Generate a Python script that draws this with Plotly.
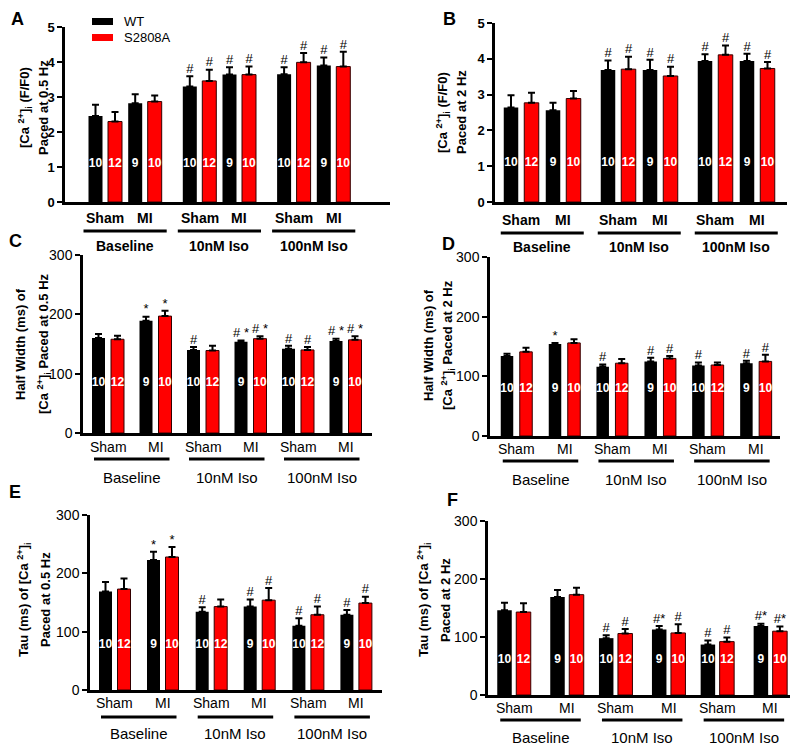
import plotly.graph_objects as go

W, H = 800, 746
OFF = 8  # page body margin: the figure is drawn 8px right/down of the window corner
FONT = "Arial, Liberation Sans, Helvetica, sans-serif"

# ---------------- data ----------------
group_names = ["Baseline", "10nM Iso", "100nM Iso"]
condition_names = ["Sham", "MI"]
series_names = ["WT", "S2808A"]
# order: Baseline Sham, Baseline MI, 10nM Sham, 10nM MI, 100nM Sham, 100nM MI
n_wt = ["10", "9", "10", "9", "10", "9"]
n_s = ["12", "10", "12", "10", "12", "10"]

A_wt = [2.46, 2.82, 3.30, 3.64, 3.65, 3.90]
A_wt_err = [0.32, 0.26, 0.29, 0.21, 0.20, 0.23]
A_s = [2.30, 2.87, 3.46, 3.64, 3.99, 3.87]
A_s_err = [0.27, 0.17, 0.32, 0.23, 0.27, 0.42]
A_wt_sig = ["", "", "#", "#", "#", "#"]
A_s_sig = ["", "", "#", "#", "#", "#"]

B_wt = [2.64, 2.56, 3.69, 3.69, 3.94, 3.94]
B_wt_err = [0.34, 0.21, 0.26, 0.28, 0.19, 0.20]
B_s = [2.77, 2.89, 3.71, 3.52, 4.11, 3.73]
B_s_err = [0.28, 0.21, 0.35, 0.26, 0.26, 0.18]
B_wt_sig = ["", "", "#", "#", "#", "#"]
B_s_sig = ["", "", "#", "#", "#", "#"]

C_wt = [160, 189, 140, 154, 142, 155]
C_wt_err = [7, 7, 5, 2, 5, 4]
C_s = [158, 197, 139, 159, 140, 157]
C_s_err = [6, 9, 8, 4, 5, 6]
C_wt_sig = ["", "*", "#", "# *", "#", "# *"]
C_s_sig = ["", "*", "", "# *", "#", "# *"]

D_wt = [134, 154, 116, 125, 118, 122]
D_wt_err = [4, 2, 4, 6, 5, 4]
D_s = [141, 156, 122, 130, 119, 125]
D_s_err = [7, 6, 7, 4, 4, 11]
D_wt_sig = ["", "*", "#", "#", "#", "#"]
D_s_sig = ["", "", "", "#", "", "#"]

E_wt = [169, 223, 134, 143, 110, 129]
E_wt_err = [16, 14, 8, 12, 13, 8]
E_s = [173, 228, 143, 154, 129, 149]
E_s_err = [18, 17, 12, 21, 14, 11]
E_wt_sig = ["", "*", "#", "#", "#", "#"]
E_s_sig = ["", "*", "", "#", "#", "#"]

F_wt = [146, 169, 98, 113, 87, 119]
F_wt_err = [13, 12, 5, 6, 7, 4]
F_s = [143, 173, 106, 107, 92, 110]
F_s_err = [15, 12, 8, 15, 7, 8]
F_wt_sig = ["", "", "#", "#*", "#", "#*"]
F_s_sig = ["", "", "#", "#", "#", "#*"]

CA = "[Ca <sup>2+</sup>]<sub>i</sub>"

# ---------------- layout per panel (window pixels) ----------------
panels = [
    dict(letter="A", wt=A_wt, wte=A_wt_err, s=A_s, se=A_s_err, wsig=A_wt_sig, ssig=A_s_sig,
         x0=65, x1=390, ybot=202, ytop=27, ymax=5, dtick=1, first=30.5, G=94.3, C=39.7, K=19.5, bw=14,
         nly=1.1, bold=True, pad=5, cy=218, uy=231, gy=246,
         t1=CA + " (F/F0)", t2="Paced at 0.5 Hz", tx1=25, tx2=44, ty=108, lx=17, ly=19),
    dict(letter="B", wt=B_wt, wte=B_wt_err, s=B_s, se=B_s_err, wsig=B_wt_sig, ssig=B_s_sig,
         x0=495, x1=787, ybot=202, ytop=23, ymax=5, dtick=1, first=16, G=97, C=42, K=20.5, bw=14.5,
         nly=1.1, bold=True, pad=3, cy=220, uy=233, gy=247,
         t1=CA + " (F/F0)", t2="Paced at 2 Hz", tx1=443, tx2=462, ty=112, lx=449, ly=19),
    dict(letter="C", wt=C_wt, wte=C_wt_err, s=C_s, se=C_s_err, wsig=C_wt_sig, ssig=C_s_sig,
         x0=83, x1=372, ybot=433, ytop=255, ymax=300, dtick=100, first=15.5, G=95, C=47.5, K=19, bw=13,
         nly=84, bold=False, pad=-2, cy=447, uy=459, gy=477,
         t1="Half Width (ms) of", t2=CA + " Paced at 0.5 Hz", tx1=20, tx2=44, ty=344, lx=15, ly=241),
    dict(letter="D", wt=D_wt, wte=D_wt_err, s=D_s, se=D_s_err, wsig=D_wt_sig, ssig=D_s_sig,
         x0=490, x1=780, ybot=436, ytop=257, ymax=300, dtick=100, first=17, G=95.7, C=48, K=19, bw=12.5,
         nly=78, bold=False, pad=-2, cy=449, uy=461, gy=479,
         t1="Half Width (ms) of", t2=CA + " Paced at 2 Hz", tx1=428, tx2=448, ty=345, lx=448, ly=244),
    dict(letter="E", wt=E_wt, wte=E_wt_err, s=E_s, se=E_s_err, wsig=E_wt_sig, ssig=E_s_sig,
         x0=90, x1=382, ybot=690, ytop=515, ymax=300, dtick=100, first=15.5, G=96.7, C=48, K=18.5, bw=13,
         nly=77, bold=False, pad=-2, cy=703, uy=717, gy=733,
         t1="Tau (ms) of " + CA, t2="Paced at 0.5 Hz", tx1=24, tx2=45, ty=600, lx=15, ly=492),
    dict(letter="F", wt=F_wt, wte=F_wt_err, s=F_s, se=F_s_err, wsig=F_wt_sig, ssig=F_s_sig,
         x0=488, x1=790, ybot=695, ytop=521, ymax=300, dtick=100, first=16.5, G=101.7, C=53, K=19, bw=14.5,
         nly=60, bold=False, pad=-3, cy=708, uy=720, gy=737,
         t1="Tau (ms) of " + CA, t2="Paced at 2 Hz", tx1=424, tx2=445, ty=600, lx=452, ly=500),
]

fig = go.Figure()
annotations = []
shapes = []


def px_x(v):
    return (v - OFF) / W


def px_y(v):
    return 1 - (v - OFF) / H


def b(txt, bold):
    return f"<b>{txt}</b>" if bold else txt


for i, p in enumerate(panels):
    idx = "" if i == 0 else str(i + 1)
    xa, ya = "x" + idx, "y" + idx
    xl, yl = "xaxis" + idx, "yaxis" + idx

    def centers(k):
        return [p["first"] + g * p["G"] + c * p["C"] + k * p["K"] for g in range(3) for c in range(2)]

    xw, xs = centers(0), centers(1)

    fig.add_trace(go.Bar(x=xw, y=p["wt"], width=p["bw"], name=series_names[0],
                         marker=dict(color="black", line=dict(width=0)),
                         error_y=dict(type="data", array=p["wte"], arrayminus=[0] * 6, symmetric=False,
                                      color="black", thickness=2, width=3.5),
                         xaxis=xa, yaxis=ya, showlegend=False))
    fig.add_trace(go.Bar(x=xs, y=p["s"], width=p["bw"], name=series_names[1],
                         marker=dict(color="#ff0000", line=dict(width=1, color="#330000")),
                         error_y=dict(type="data", array=p["se"], arrayminus=[0] * 6, symmetric=False,
                                      color="black", thickness=2, width=3.5),
                         xaxis=xa, yaxis=ya, showlegend=False))
    # n labels
    fig.add_trace(go.Scatter(x=xw + xs, y=[p["nly"]] * 12, text=n_wt + n_s, mode="text",
                             textposition="middle center",
                             textfont=dict(family=FONT, size=12, color="white", weight="bold"),
                             xaxis=xa, yaxis=ya, showlegend=False, cliponaxis=False, hoverinfo="skip"))
    # significance markers (only non-empty)
    sx, sy, st = [], [], []
    for xs_, ms, es, sg in ((xw, p["wt"], p["wte"], p["wsig"]), (xs, p["s"], p["se"], p["ssig"])):
        for xx, m, e, t in zip(xs_, ms, es, sg):
            if t:
                sx.append(xx)
                sy.append(m + e)
                st.append(t)
    fig.add_trace(go.Scatter(x=sx, y=sy, text=st, mode="text",
                             textposition="top center",
                             textfont=dict(family=FONT, size=13, color="black"),
                             xaxis=xa, yaxis=ya, showlegend=False, cliponaxis=False, hoverinfo="skip"))

    fig.update_layout({
        xl: dict(domain=[px_x(p["x0"]), px_x(p["x1"])], range=[0, p["x1"] - p["x0"]],
                 anchor=ya, showline=True, linewidth=2.5, linecolor="black", ticks="",
                 showticklabels=False, showgrid=False, zeroline=False, fixedrange=True,
                 automargin=False),
        yl: dict(domain=[px_y(p["ybot"]), px_y(p["ytop"])], range=[0, p["ymax"]],
                 anchor=xa, showline=True, linewidth=2.5, linecolor="black", ticks="outside",
                 ticklen=5, tickwidth=2, tickcolor="black", dtick=p["dtick"], tick0=0,
                 tickfont=dict(family=FONT, size=13 if p["bold"] else 14, color="black",
                               weight="bold" if p["bold"] else "normal"),
                 showgrid=False, zeroline=False, fixedrange=True, automargin=False),
    })

    # condition labels, underlines, group labels
    for g in range(3):
        for c in range(2):
            cx = (xw[g * 2 + c] + xs[g * 2 + c]) / 2
            annotations.append(dict(x=cx, y=px_y(p["cy"]), xref=xa, yref="paper",
                                    text=b(condition_names[c], p["bold"]), showarrow=False,
                                    xanchor="center", yanchor="middle",
                                    font=dict(family=FONT, size=14, color="black")))
        left = xw[g * 2] - p["bw"] / 2 - p["pad"]
        right = xs[g * 2 + 1] + p["bw"] / 2 + p["pad"]
        shapes.append(dict(type="line", xref=xa, yref="paper", x0=left, x1=right,
                           y0=px_y(p["uy"]), y1=px_y(p["uy"]), line=dict(color="black", width=3)))
        annotations.append(dict(x=(left + right) / 2, y=px_y(p["gy"]), xref=xa, yref="paper",
                                text=b(group_names[g], p["bold"]), showarrow=False,
                                xanchor="center", yanchor="middle",
                                font=dict(family=FONT, size=14 if p["bold"] else 15, color="black")))

    # y titles (two rotated lines)
    for tx, tt in ((p["tx1"], p["t1"]), (p["tx2"], p["t2"])):
        annotations.append(dict(x=px_x(tx), y=px_y(p["ty"]), xref="paper", yref="paper",
                                text=f"<b>{tt}</b>", textangle=-90, showarrow=False,
                                xanchor="center", yanchor="middle",
                                font=dict(family=FONT, size=13, color="black")))
    # panel letter
    annotations.append(dict(x=px_x(p["lx"]), y=px_y(p["ly"]), xref="paper", yref="paper",
                            text=f"<b>{p['letter']}</b>", showarrow=False,
                            xanchor="center", yanchor="middle",
                            font=dict(family=FONT, size=18, color="black")))

# legend (panel A)
for (y0, y1, col, name) in ((18, 25, "black", series_names[0]), (34, 41, "#ff0000", series_names[1])):
    shapes.append(dict(type="rect", xref="paper", yref="paper", x0=px_x(92), x1=px_x(113),
                       y0=px_y(y1), y1=px_y(y0), fillcolor=col, line=dict(width=0)))
    annotations.append(dict(x=px_x(122), y=px_y((y0 + y1) / 2), xref="paper", yref="paper",
                            text=name, showarrow=False, xanchor="left", yanchor="middle",
                            font=dict(family=FONT, size=13, color="black")))

fig.update_layout(width=W, height=H, margin=dict(l=0, r=0, t=0, b=0, pad=0),
                  paper_bgcolor="white", plot_bgcolor="white", barmode="overlay",
                  annotations=annotations, shapes=shapes, showlegend=False,
                  font=dict(family=FONT, color="black"))

fig.write_html("out.html")
